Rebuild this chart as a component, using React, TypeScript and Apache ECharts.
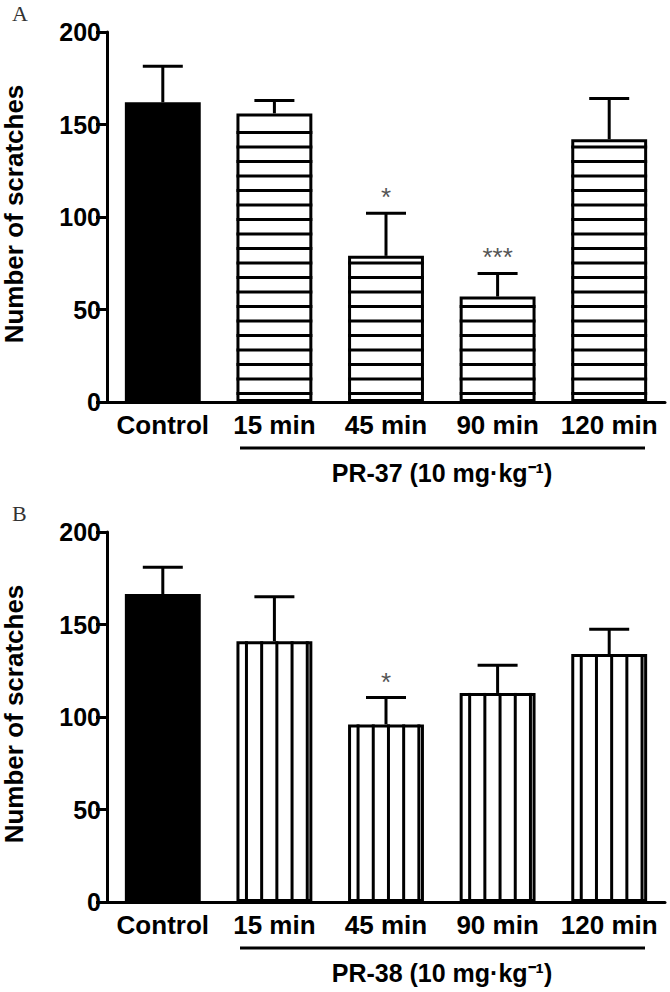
import React, { useEffect, useRef } from 'react';
import * as echarts from 'echarts';

const categories = ['Control', '15 min', '45 min', '90 min', '120 min'];
const yTicks = [0, 50, 100, 150, 200];
const meansA = [162, 156, 79, 57, 142];
const semA = [19.5, 7, 23, 12.5, 22];
const sigA = ['', '', '*', '***', ''];
const meansB = [166.5, 141, 96, 113, 134];
const semB = [14.5, 24, 14.5, 15, 13.5];
const sigB = ['', '', '*', '', ''];
const panelLabels = ['A', 'B'];
const groupLabels = ['PR-37 (10 mg·kg⁻¹)', 'PR-38 (10 mg·kg⁻¹)'];
const yTitle = 'Number of scratches';

const FONT = '"Liberation Sans", Arial, sans-serif';

function makeRenderer(orient: 'h' | 'v', sig: string[]) {
  return (params: any, api: any) => {
    const i = api.value(0);
    const m = api.value(1);
    const s = api.value(2);
    const p0 = api.coord([i, 0]);
    const p1 = api.coord([i, m]);
    const pe = api.coord([i, m + s]);
    const bw = api.size([1, 0])[0] * 0.68;
    const cx = p0[0];
    const left = cx - bw / 2;
    const right = cx + bw / 2;
    const bottom = p0[1];
    const top = p1[1];
    const ls = { stroke: '#000', lineWidth: 3 };
    const children: any[] = [];
    if (i > 0) {
      if (orient === 'h') {
        for (let y = bottom - 8.5; y > top + 5; y -= 14.5) {
          children.push({ type: 'line', shape: { x1: left, y1: y, x2: right, y2: y }, style: ls });
        }
      } else {
        for (let x = left + 10; x < right - 4; x += 15.2) {
          children.push({ type: 'line', shape: { x1: x, y1: top, x2: x, y2: bottom }, style: ls });
        }
      }
    }
    children.push({ type: 'line', shape: { x1: cx, y1: top, x2: cx, y2: pe[1] }, style: ls });
    children.push({ type: 'line', shape: { x1: cx - 20, y1: pe[1], x2: cx + 20, y2: pe[1] }, style: ls });
    const t = sig[params.dataIndex];
    if (t) {
      children.push({
        type: 'text',
        x: cx,
        y: pe[1] - 3,
        style: { text: t, align: 'center', verticalAlign: 'bottom', fontSize: 26, fontFamily: FONT, fill: '#555' },
      });
    }
    return { type: 'group', children };
  };
}

export default function App() {
  const ref = useRef<HTMLDivElement>(null);
  useEffect(() => {
    document.body.style.margin = '0';
    const chart = echarts.init(ref.current!, null, { renderer: 'svg' });
    const grids = [
      { left: 107, top: 32, width: 558, height: 370 },
      { left: 107, top: 532, width: 558, height: 370 },
    ];
    const mkX = (gi: number) => ({
      type: 'category',
      gridIndex: gi,
      data: categories,
      axisLine: { lineStyle: { color: '#000', width: 3 } },
      axisTick: { show: false },
      axisLabel: { color: '#000', fontSize: 26, fontWeight: 'bold', fontFamily: FONT, margin: 10, interval: 0 },
    });
    const mkY = (gi: number) => ({
      type: 'value',
      gridIndex: gi,
      min: yTicks[0],
      max: yTicks[yTicks.length - 1],
      interval: yTicks[1] - yTicks[0],
      axisLine: { show: true, lineStyle: { color: '#000', width: 3 } },
      axisTick: { show: true, length: 11, lineStyle: { color: '#000', width: 3 } },
      axisLabel: { color: '#000', fontSize: 25, fontWeight: 'bold', fontFamily: FONT, margin: 6 },
      splitLine: { show: false },
    });
    const mkBar = (gi: number, means: number[]) => ({
      type: 'bar',
      xAxisIndex: gi,
      yAxisIndex: gi,
      barWidth: '68%',
      data: means.map((v, k) => ({
        value: v,
        itemStyle: { color: k === 0 ? '#000' : '#fff', borderColor: '#000', borderWidth: 3 },
      })),
    });
    const mkCustom = (gi: number, means: number[], sems: number[], sig: string[], orient: 'h' | 'v') => ({
      type: 'custom',
      xAxisIndex: gi,
      yAxisIndex: gi,
      z: 5,
      renderItem: makeRenderer(orient, sig),
      data: means.map((v, k) => [k, v, sems[k]]),
    });
    const graphic: any[] = [];
    [0, 1].forEach((gi) => {
      const off = gi * 500;
      graphic.push({
        type: 'text',
        left: 12,
        top: 2 + off,
        style: { text: panelLabels[gi], fontSize: 22, fontFamily: '"Liberation Serif", "Times New Roman", serif', fill: '#333' },
      });
      graphic.push({
        type: 'text',
        x: 14,
        y: 214 + off,
        rotation: Math.PI / 2,
        style: { text: yTitle, fontSize: 26, fontWeight: 'bold', fontFamily: FONT, fill: '#000', align: 'center', verticalAlign: 'middle' },
      });
      graphic.push({
        type: 'line',
        shape: { x1: 240, y1: 448 + off, x2: 645, y2: 448 + off },
        style: { stroke: '#000', lineWidth: 3 },
      });
      graphic.push({
        type: 'text',
        x: 442,
        y: 473 + off,
        style: { text: groupLabels[gi], fontSize: 25, fontWeight: 'bold', fontFamily: FONT, fill: '#000', align: 'center', verticalAlign: 'middle' },
      });
    });
    chart.setOption({
      animation: false,
      backgroundColor: '#fff',
      grid: grids,
      xAxis: [mkX(0), mkX(1)],
      yAxis: [mkY(0), mkY(1)],
      series: [
        mkBar(0, meansA),
        mkCustom(0, meansA, semA, sigA, 'h'),
        mkBar(1, meansB),
        mkCustom(1, meansB, semB, sigB, 'v'),
      ],
      graphic,
    });
    return () => chart.dispose();
  }, []);
  return <div ref={ref} style={{ position: 'fixed', left: 0, top: 0, width: 670, height: 992 }} />;
}
